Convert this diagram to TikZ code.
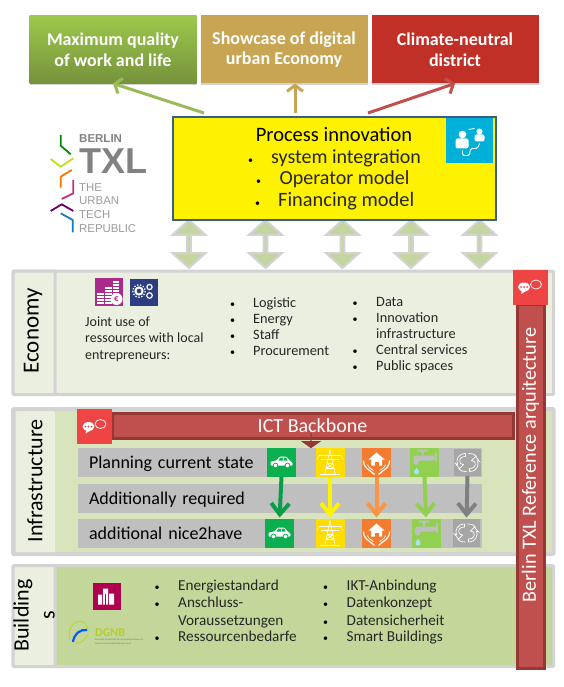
\documentclass[tikz,border=0pt]{standalone}
\usepackage{fontspec}
\setmainfont{Carlito}
\newfontfamily\logofont{Liberation Sans}
\usepackage{xcolor}
\usetikzlibrary{arrows.meta,positioning,shapes.arrows,shadows}
\definecolor{goalgreentop}{RGB}{156,200,75}
\definecolor{goalgreenlow}{RGB}{118,146,60}
\definecolor{goaltan}{RGB}{200,165,82}
\definecolor{goalred}{RGB}{192,48,39}
\definecolor{arrowgreen}{RGB}{155,187,89}
\definecolor{arrowred}{RGB}{192,80,77}
\definecolor{processblue}{RGB}{56,93,138}
\definecolor{peopleblue}{RGB}{0,176,216}
\definecolor{framegray}{RGB}{211,211,211}
\definecolor{paleback}{RGB}{235,239,223}
\definecolor{infraback}{RGB}{216,228,188}
\definecolor{buildback}{RGB}{196,215,155}
\definecolor{linkgreen}{RGB}{197,213,160}
\definecolor{barred}{RGB}{192,80,77}
\definecolor{bardark}{RGB}{149,55,53}
\definecolor{chatred}{RGB}{239,68,68}
\definecolor{rowgray}{RGB}{191,191,191}
\definecolor{carback}{RGB}{11,175,79}
\definecolor{powerback}{RGB}{255,221,0}
\definecolor{homeback}{RGB}{244,124,48}
\definecolor{homearrow}{RGB}{247,150,70}
\definecolor{waterback}{RGB}{146,208,80}
\definecolor{loopback}{RGB}{166,166,166}
\definecolor{coinback}{RGB}{170,42,140}
\definecolor{gearback}{RGB}{46,60,130}
\definecolor{towerback}{RGB}{176,0,80}
\definecolor{logogray}{RGB}{130,130,130}
\newcommand{\fsz}[1]{\fontsize{#1}{#1}\selectfont}
\newcommand{\rowfont}{\fsz{18}\spaceskip=.17em\relax}
\tikzset{
  chat/.pic={
    \fill[white] (-6,0) ellipse (6 and 4.5);
    \fill[white] (-8,3) -- (-9,7) -- (-4,4) -- cycle;
    \fill[chatred] (-9,0) circle (1) (-6,0) circle (1) (-3,0) circle (1);
    \draw[white,line width=.7] (6,-2.5) ellipse (5.5 and 4.5);
  },
  car/.pic={
    \fill[white,rounded corners=1pt] (-11,3) -- (-11,-1) -- (-5,-2) -- (-2,-6) -- (5,-6) -- (8,-2) -- (11,0) -- (11,3) -- cycle;
    \fill[carback] (-3,-2) -- (-1,-5) -- (1.5,-5) -- (1.5,-2) -- cycle (2.5,-2) -- (2.5,-5) -- (4.5,-5) -- (6,-2) -- cycle;
    \fill[white,draw=carback,line width=.8] (-6,3) circle (2.4) (6,3) circle (2.4);
  },
  pylon/.pic={
    \draw[white,line width=.6] (0,-13) -- (-5,11) (0,-13) -- (5,11) (-11,-7) -- (11,-7) (-9,-3) -- (9,-3) (-3,1) -- (3,1) (-4,6) -- (4,6) (-3,1) -- (4,6) (3,1) -- (-4,6);
    \draw[white,line width=1] (-10,11.5) -- (10,11.5);
    \draw[white,line width=.4] (-11,-7) -- (-13,-3) (11,-7) -- (13,-3);
  },
  home/.pic={
    \fill[white] (0,-10) -- (-8,-3) -- (-5.5,-3) -- (-5.5,3) -- (5.5,3) -- (5.5,-3) -- (8,-3) -- cycle;
    \fill[homeback] (-2,-1) rectangle (2,3);
    \draw[white,line width=1.2] (-13,-2) .. controls (-13,6) and (-7,7) .. (-2,12) (13,-2) .. controls (13,6) and (7,7) .. (2,12);
    \draw[white,line width=.7] (-9,2) .. controls (-8,6) and (-5,6) .. (-3,8) (9,2) .. controls (8,6) and (5,6) .. (3,8);
  },
  faucet/.pic={
    \fill[rowgray] (-7,-13) rectangle (3,-11) (-3,-12) rectangle (-1,-7) (10,-10) rectangle (12,-1);
    \fill[rowgray,rounded corners=2pt] (-11,2) -- (-11,-7) -- (10,-7) -- (10,-2) -- (-6,-2) -- (-6,2) -- cycle;
    \fill[cyan!35!white] (-8,5) -- (-5.5,9) .. controls (-5,13) and (-11,13) .. (-10.5,9) -- cycle;
  },
  loopsign/.pic={
    \draw[white,line width=.7] (-2,-9) .. controls (-9,-9) and (-12,-3) .. (-10,2) (-2,-6) .. controls (-7,-6) and (-9,-3) .. (-7,1) (-2,-9) -- (-2,-6);
    \draw[white,line width=.7] (-10,2) -- (-12,1) -- (-8,6) -- (-4,2) -- (-7,1);
    \draw[white,line width=.7] (2,9) .. controls (9,9) and (12,3) .. (10,-2) (2,6) .. controls (7,6) and (9,3) .. (7,-1) (2,9) -- (2,6);
    \draw[white,line width=.7] (10,-2) -- (12,-1) -- (8,-6) -- (4,-2) -- (7,-1);
    \draw[white,line width=.7] (1,-9) .. controls (5,-9) and (8,-8) .. (9,-6) (-1,9) .. controls (-5,9) and (-8,8) .. (-9,6);
  },
  people/.pic={
    \fill[white] (-7,-6) circle (3.8) (10,-9) circle (3);
    \fill[white,rounded corners=2pt] (-14,8) rectangle (-1,-2) (5,1) rectangle (15,-6);
    \draw[white,line width=.9,rounded corners=1.5pt] (-1,-11) -- (5,-12) (-7,10) -- (-7,15) -- (0,15) -- (1,8) -- (8,8) -- (10,3);
  },
  coins/.pic={
    \foreach \ypos in {1,4,7,10}{\fill[white] (-12,\ypos) rectangle (-5,\ypos+2);}
    \foreach \ypos in {-5,-2,1,4,7,10}{\fill[white] (-4,\ypos) rectangle (3,\ypos+2);}
    \foreach \ypos in {-11,-8,-5,-2,1}{\fill[white] (4,\ypos) rectangle (10,\ypos+2);}
    \fill[white] (7.5,7) circle (6);
    \node[text=coinback,font=\fsz{9}\bfseries,inner sep=0] (euro) at (7.5,7) {€};
  },
  gears/.pic={
    \draw[white,line width=2] (-5,-1) circle (3.6);
    \draw[white,line width=1.2,dash pattern=on 1.4pt off 1.6pt] (-5,-1) circle (6.2);
    \draw[white,line width=1.2] (5.5,-5) circle (2.6) (5.5,3.5) circle (2.8);
  },
  tower/.pic={
    \fill[white] (-9,8) rectangle (-5,-2) (-4,8) rectangle (1,-8) (2,8) rectangle (7,-3);
    \fill[towerback] (-1.8,8) rectangle (-1,-3);
  }
}
\begin{document}
\begin{tikzpicture}[x=1pt,y=-1pt,
  goalbox/.style={minimum width=167pt,minimum height=68pt,inner sep=0pt,outer sep=0pt,text=white,
                  align=center,font=\fontsize{18}{20.7}\selectfont\bfseries,
                  drop shadow={shadow xshift=0pt,shadow yshift=-1.5pt,opacity=.35}},
  goalarrow/.style={-{Straight Barb[length=6pt,width=16pt]},line width=3pt},
  linkarrow/.style={double arrow,draw=framegray,fill=linkgreen,line width=2pt,rotate=90,
                    minimum height=48pt,minimum width=33pt,inner sep=0pt,
                    double arrow head extend=8pt,double arrow tip angle=96},
  panel/.style={draw=framegray,line width=3pt,anchor=north west,outer sep=0pt,inner sep=0pt,rounded corners=1pt},
  celltext/.style={rotate=90,font=\fontsize{23}{28}\selectfont,align=center},
  listtext/.style={anchor=base west,inner sep=0pt,font=\fsz{14.3},text=black!85},
  buildtext/.style={listtext,font=\fsz{15.2}},
  listdot/.style={anchor=base,inner sep=0pt,font=\fsz{10}},
  redbar/.style={fill=barred,draw=bardark,line width=3pt,inner sep=0pt,outer sep=0pt,text=white},
  chatbox/.style={fill=chatred,minimum size=35pt,inner sep=0pt,outer sep=0pt},
  rowbox/.style={fill=rowgray,minimum width=404pt,minimum height=29pt,inner ysep=0pt,inner xsep=11pt,
                 outer sep=0pt,text width=382pt,align=left,text height=13pt,text depth=2pt,
                 font=\rowfont},
  iconbox/.style={minimum width=29pt,minimum height=29pt,inner sep=0pt,outer sep=0pt},
  rowarrow/.style={-{Straight Barb[length=11pt,width=18pt]},line width=4pt,shorten >=1.5pt},
  chevron/.style={line width=1.8pt},
  logotext/.style={anchor=base west,inner sep=0pt,text=logogray}
]
% goals
\node[goalbox,top color=goalgreentop,bottom color=goalgreenlow] (quality) at (113,49.5) {Maximum quality\\of work and life};
\node[goalbox,fill=goaltan,right=4pt of quality] (showcase) {Showcase of digital\\urban Economy};
\node[goalbox,fill=goalred,right=4pt of showcase] (climate) {Climate-neutral\\district};
% links down to the economy panel
\foreach \name/\xpos in {linka/189,linkb/265.5,linkc/342.5,linkd/411,linke/479.5}{
  \node[linkarrow] (\name) at (\xpos,244) {};
}
% process box
\node[draw=processblue,line width=2pt,fill=yellow,minimum width=323pt,minimum height=103pt,outer sep=0pt] (process) at (334.5,168.5) {};
\node[fill=peopleblue,minimum width=47pt,minimum height=45pt,inner sep=0pt] (peoplebox) at (469.5,140.5) {};
\pic at (peoplebox) {people};
\node[anchor=base,inner sep=0pt,font=\fsz{20.5}] (processtitle) at (334,141.7) {Process innovation};
\node[listdot] (dota) at (250.6,163.3) {\textbullet};
\node[listtext,font=\fsz{20}] (integration) at (271,163.3) {system integration};
\node[listdot] (dotb) at (258.6,184.3) {\textbullet};
\node[listtext,font=\fsz{20}] (operator) at (279.5,184.3) {Operator model};
\node[listdot] (dotc) at (257.5,206.7) {\textbullet};
\node[listtext,font=\fsz{20.4}] (financing) at (278,206.7) {Financing model};
% arrows up to the goals
\coordinate (greenstart) at (204,113);
\coordinate (tanstart) at (295,113);
\coordinate (tanend) at (295,83.5);
\coordinate (redstart) at (368,113);
\draw[goalarrow,color=arrowgreen] (greenstart)--(quality.south);
\draw[goalarrow,color=goaltan] (tanstart)--(tanend);
\draw[goalarrow,color=arrowred] (redstart)--(climate.south);
% logo
\draw[chevron,color=green!55!black] (60.7,135) -- (60.7,145.7) -- (70.7,154.3);
\draw[chevron,color=yellow!75!green] (50.7,159) -- (60.7,166.7) -- (73.3,158.3);
\draw[chevron,color=orange!90!red] (71.7,170) -- (60.7,176.7) -- (60.7,187.7);
\draw[chevron,color=magenta!75!black] (73.3,180) -- (73.3,193.3) -- (61.7,199);
\draw[chevron,color=violet!80!black] (50.7,211) -- (61.7,204.3) -- (73.3,211);
\draw[chevron,color=cyan!60!blue] (60.7,213.3) -- (72.7,220) -- (72.7,232.3);
\node[logotext,font=\logofont\fsz{11.5}\bfseries] (berlin) at (79,142.5) {BERLIN};
\node[logotext,font=\logofont\fsz{36}\bfseries] (txl) at (79,174) {TXL};
\node[logotext,font=\logofont\fsz{11.4},text=logogray!80] (the) at (79,191.7) {THE};
\node[logotext,font=\logofont\fsz{11.4},text=logogray!80] (urban) at (79,204.5) {URBAN};
\node[logotext,font=\logofont\fsz{11.4},text=logogray!80] (tech) at (79,218) {TECH};
\node[logotext,font=\logofont\fsz{11.4},text=logogray!80] (republic) at (79,232.3) {REPUBLIC};
% economy panel
\node[panel,fill=paleback,minimum width=540.5pt,minimum height=123.5pt] (economy) at (13,271) {};
\node[panel,fill=paleback,minimum width=42pt,minimum height=123.5pt] (economycell) at (13,271) {};
\node[celltext] (economylabel) at (33,331) {Economy};
\node[iconbox,fill=coinback,minimum width=28pt,minimum height=28pt] (coinbox) at (109,292) {};
\pic at (coinbox) {coins};
\node[iconbox,fill=gearback,minimum width=28.5pt,minimum height=27pt] (gearbox) at (144,292) {};
\pic at (gearbox) {gears};
\node[listtext,font=\fsz{14}] (jointa) at (85,326.7) {Joint use of};
\node[listtext,font=\fsz{14}] (jointb) at (85,342.7) {ressources with local};
\node[listtext,font=\fsz{14}] (jointc) at (85,359) {entrepreneurs:};
\foreach \name/\ypos/\label in {logistic/307.7/Logistic,energy/323.7/Energy,staff/339.7/Staff,procurement/355/Procurement}{
  \node[listdot] (\name dot) at (232.6,\ypos) {\textbullet};
  \node[listtext] (\name) at (253,\ypos) {\label};
}
\foreach \name/\ypos/\label in {data/306.7/Data,innovation/322.7/Innovation,central/354/Central services,public/370/Public spaces}{
  \node[listdot] (\name dot) at (355,\ypos) {\textbullet};
  \node[listtext] (\name) at (376,\ypos) {\label};
}
\node[listtext] (infrastructure) at (376,338.7) {infrastructure};
% infrastructure panel
\node[panel,line width=4pt,fill=infraback,minimum width=540.5pt,minimum height=145pt] (infra) at (13,409) {};
\node[panel,line width=4pt,draw=none,fill=paleback,minimum width=39pt,minimum height=141pt] (infracell) at (16,411) {};
\node[celltext,font=\fontsize{22}{28}\selectfont] (infralabel) at (35,481) {Infrastructure};
\node[rowbox] (rowcurrent) at (280,462.5) {Planning current state};
\node[rowbox,below=7pt of rowcurrent] (rowrequired) {Additionally required};
\node[rowbox,below=6pt of rowrequired] (rownice) {additional nice2have};
% ICT backbone
\node[redbar,minimum width=401pt,minimum height=25pt,font=\fsz{20}] (ictbar) at (312.5,425.5) {ICT Backbone};
\node[single arrow,fill=bardark,rotate=-90,minimum height=15pt,minimum width=20pt,inner sep=0pt,
      single arrow head extend=3.5pt,single arrow tip angle=110] (ictdrop) at (311,440.5) {};
\node[chatbox] (ictchat) at (94.5,426.5) {};
\pic at (ictchat) {chat};
% icons of the three rows
\node[iconbox,fill=carback] (carcurrent) at (281.5,462.5) {};
\node[iconbox,fill=powerback] (powercurrent) at (330,462.5) {};
\node[iconbox,fill=homeback] (homecurrent) at (376.5,462.5) {};
\node[iconbox,fill=waterback] (watercurrent) at (424.5,462.5) {};
\node[iconbox,fill=loopback,minimum width=27pt,minimum height=27pt] (loopcurrent) at (467.5,462.5) {};
\node[iconbox,fill=carback] (carnice) at (279.5,533.5) {};
\node[iconbox,fill=powerback] (powernice) at (330,533.5) {};
\node[iconbox,fill=homeback] (homenice) at (376.5,533.5) {};
\node[iconbox,fill=waterback] (waternice) at (426,533.5) {};
\node[iconbox,fill=loopback,minimum width=27pt,minimum height=28pt] (loopnice) at (466.5,533) {};
\foreach \name in {carcurrent,carnice}{\pic at (\name) {car};}
\foreach \name in {powercurrent,powernice}{\pic at (\name) {pylon};}
\foreach \name in {homecurrent,homenice}{\pic at (\name) {home};}
\foreach \name in {watercurrent,waternice}{\pic at (\name) {faucet};}
\foreach \name in {loopcurrent,loopnice}{\pic at (\name) {loopsign};}
\draw[rowarrow,color=carback!90!black] (carcurrent.south)--(carnice.north);
\draw[rowarrow,color=yellow] (powercurrent.south)--(powernice.north);
\draw[rowarrow,color=homearrow] (homecurrent.south)--(homenice.north);
\draw[rowarrow,color=waterback] (watercurrent.south)--(waternice.north);
\draw[rowarrow,color=black!50] (loopcurrent.south)--(loopnice.north);
% buildings panel
\node[panel,fill=buildback,minimum width=540.5pt,minimum height=101pt] (buildings) at (13,565.5) {};
\node[panel,fill=paleback,minimum width=42pt,minimum height=101pt] (buildingscell) at (13,565.5) {};
\node[celltext,font=\fontsize{22}{26}\selectfont] (buildingslabel) at (34,615.5) {Building\\s};
\node[iconbox,fill=towerback,minimum width=27.5pt,minimum height=27pt] (towerbox) at (107,596.5) {};
\pic at (towerbox) {tower};
\draw[yellow!70!green,line width=.8] (70,640) .. controls (67,630) and (72,622) .. (80,621) .. controls (86,621) and (88,628) .. (88,632);
\draw[blue!65!cyan,line width=2.2] (73,642) .. controls (74,634) and (80,629) .. (87,630);
\draw[yellow!70!green,line width=.8] (75,643) .. controls (80,644) and (86,640) .. (88,634);
\node[anchor=base west,inner sep=0pt,text=yellow!75!green!90!black,font=\fsz{12}\bfseries] (dgnb) at (95,636.7) {DGNB};
\node[anchor=base west,inner sep=0pt,text=black!55,font=\fsz{2.4}] (dgnbnamea) at (95,640.8) {Deutsche Gesellschaft für Nachhaltiges Bauen e.V.};
\node[anchor=base west,inner sep=0pt,text=black!55,font=\fsz{2.4}] (dgnbnameb) at (95,644) {German Sustainable Building Council};
\foreach \name/\ypos/\label in {standard/590.7/Energiestandard,anschluss/607.3/Anschluss-,bedarfe/641.7/Ressourcenbedarfe}{
  \node[listdot] (\name dot) at (157,\ypos) {\textbullet};
  \node[buildtext] (\name) at (178,\ypos) {\label};
}
\node[buildtext] (voraussetzungen) at (178,625) {Voraussetzungen};
\foreach \name/\ypos/\label in {anbindung/590.7/IKT-Anbindung,konzept/607.3/Datenkonzept,sicherheit/625/Datensicherheit,smart/641.7/Smart Buildings}{
  \node[listdot] (\name dot) at (325.6,\ypos) {\textbullet};
  \node[buildtext] (\name) at (346.5,\ypos) {\label};
}
% reference bar
\node[redbar,minimum width=27pt,minimum height=364pt] (refbar) at (530.5,486) {};
\node[rotate=90,text=white,inner sep=0pt,font=\fsz{20.2}] (reftext) at (530.5,465) {Berlin TXL Reference arquitecture};
\node[chatbox] (refchat) at (530,287) {};
\pic at (refchat) {chat};
\useasboundingbox (0,0) rectangle (564,687);
\end{tikzpicture}
\end{document}
